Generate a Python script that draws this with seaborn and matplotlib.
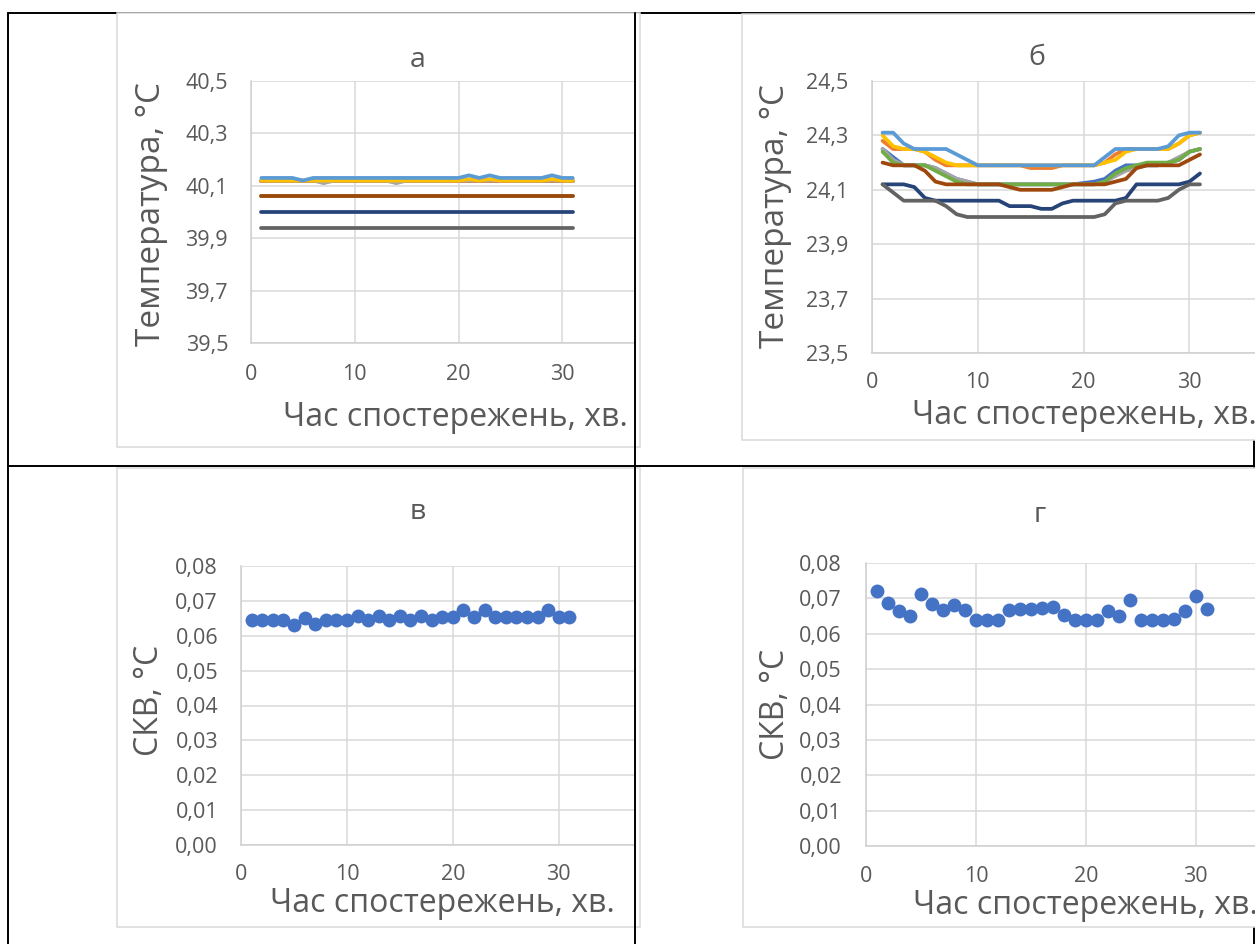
import matplotlib
matplotlib.use("Agg")
import matplotlib.pyplot as plt
import matplotlib.patches as mpatches
from matplotlib.lines import Line2D
from matplotlib.ticker import FuncFormatter
import pandas as pd
import seaborn as sns

# ---- data ----
minutes = list(range(1, 32))

series_names = ["s1", "s2", "s3", "s4", "s5", "s6", "s7", "s8", "s9"]
series_colors = ["#4472C4", "#ED7D31", "#A5A5A5", "#FFC000", "#5B9BD5",
                 "#70AD47", "#264478", "#9E480E", "#636363"]

# panel а: temperature, °C
a_s1 = [40.12, 40.12, 40.12, 40.12, 40.12, 40.12, 40.12, 40.12, 40.12, 40.12, 40.12,
        40.12, 40.12, 40.12, 40.12, 40.12, 40.12, 40.12, 40.12, 40.12, 40.12,
        40.12, 40.12, 40.12, 40.12, 40.12, 40.12, 40.12, 40.12, 40.12, 40.12]
a_s2 = [40.12, 40.12, 40.12, 40.12, 40.12, 40.12, 40.12, 40.12, 40.12, 40.12, 40.12,
        40.12, 40.12, 40.12, 40.12, 40.12, 40.12, 40.12, 40.12, 40.12, 40.12,
        40.12, 40.12, 40.12, 40.12, 40.12, 40.12, 40.12, 40.12, 40.12, 40.12]
a_s3 = [40.12, 40.12, 40.12, 40.12, 40.12, 40.12, 40.11, 40.12, 40.12, 40.12, 40.12,
        40.12, 40.12, 40.11, 40.12, 40.12, 40.12, 40.12, 40.12, 40.12, 40.12,
        40.12, 40.12, 40.12, 40.12, 40.12, 40.12, 40.12, 40.12, 40.12, 40.12]
a_s4 = [40.12, 40.12, 40.12, 40.12, 40.12, 40.12, 40.12, 40.12, 40.12, 40.12, 40.12,
        40.12, 40.12, 40.12, 40.12, 40.12, 40.12, 40.12, 40.12, 40.12, 40.125,
        40.12, 40.125, 40.12, 40.12, 40.12, 40.12, 40.12, 40.125, 40.12, 40.12]
a_s5 = [40.13, 40.13, 40.13, 40.13, 40.12, 40.13, 40.13, 40.13, 40.13, 40.13, 40.13,
        40.13, 40.13, 40.13, 40.13, 40.13, 40.13, 40.13, 40.13, 40.13, 40.14,
        40.13, 40.14, 40.13, 40.13, 40.13, 40.13, 40.13, 40.14, 40.13, 40.13]
a_s6 = [40.06, 40.06, 40.06, 40.06, 40.06, 40.06, 40.06, 40.06, 40.06, 40.06, 40.06,
        40.06, 40.06, 40.06, 40.06, 40.06, 40.06, 40.06, 40.06, 40.06, 40.06,
        40.06, 40.06, 40.06, 40.06, 40.06, 40.06, 40.06, 40.06, 40.06, 40.06]
a_s7 = [40.00, 40.00, 40.00, 40.00, 40.00, 40.00, 40.00, 40.00, 40.00, 40.00, 40.00,
        40.00, 40.00, 40.00, 40.00, 40.00, 40.00, 40.00, 40.00, 40.00, 40.00,
        40.00, 40.00, 40.00, 40.00, 40.00, 40.00, 40.00, 40.00, 40.00, 40.00]
a_s8 = [40.06, 40.06, 40.06, 40.06, 40.06, 40.06, 40.06, 40.06, 40.06, 40.06, 40.06,
        40.06, 40.06, 40.06, 40.06, 40.06, 40.06, 40.06, 40.06, 40.06, 40.06,
        40.06, 40.06, 40.06, 40.06, 40.06, 40.06, 40.06, 40.06, 40.06, 40.06]
a_s9 = [39.94, 39.94, 39.94, 39.94, 39.94, 39.94, 39.94, 39.94, 39.94, 39.94, 39.94,
        39.94, 39.94, 39.94, 39.94, 39.94, 39.94, 39.94, 39.94, 39.94, 39.94,
        39.94, 39.94, 39.94, 39.94, 39.94, 39.94, 39.94, 39.94, 39.94, 39.94]

# panel б: temperature, °C
b_s1 = [24.25, 24.22, 24.19, 24.19, 24.19, 24.18, 24.16, 24.14, 24.13, 24.12, 24.12,
        24.12, 24.12, 24.12, 24.12, 24.12, 24.12, 24.12, 24.12, 24.125, 24.13,
        24.14, 24.17, 24.19, 24.19, 24.19, 24.19, 24.20, 24.21, 24.24, 24.25]
b_s2 = [24.28, 24.25, 24.25, 24.25, 24.24, 24.21, 24.19, 24.19, 24.19, 24.19, 24.19,
        24.19, 24.19, 24.19, 24.18, 24.18, 24.18, 24.19, 24.19, 24.19, 24.19,
        24.20, 24.23, 24.25, 24.25, 24.25, 24.25, 24.25, 24.27, 24.30, 24.31]
b_s3 = [24.25, 24.21, 24.19, 24.19, 24.19, 24.18, 24.16, 24.14, 24.13, 24.12, 24.12,
        24.12, 24.12, 24.12, 24.12, 24.12, 24.12, 24.12, 24.12, 24.12, 24.12,
        24.13, 24.15, 24.17, 24.18, 24.19, 24.19, 24.20, 24.22, 24.24, 24.25]
b_s4 = [24.30, 24.26, 24.25, 24.25, 24.24, 24.22, 24.20, 24.19, 24.19, 24.19, 24.19,
        24.19, 24.19, 24.19, 24.19, 24.19, 24.19, 24.19, 24.19, 24.19, 24.19,
        24.20, 24.21, 24.24, 24.25, 24.25, 24.25, 24.25, 24.27, 24.30, 24.31]
b_s5 = [24.31, 24.31, 24.27, 24.25, 24.25, 24.25, 24.25, 24.23, 24.21, 24.19, 24.19,
        24.19, 24.19, 24.19, 24.19, 24.19, 24.19, 24.19, 24.19, 24.19, 24.19,
        24.22, 24.25, 24.25, 24.25, 24.25, 24.25, 24.26, 24.30, 24.31, 24.31]
b_s6 = [24.24, 24.20, 24.19, 24.19, 24.19, 24.17, 24.15, 24.13, 24.12, 24.12, 24.12,
        24.12, 24.12, 24.12, 24.12, 24.12, 24.12, 24.12, 24.12, 24.12, 24.12,
        24.13, 24.16, 24.18, 24.19, 24.20, 24.20, 24.20, 24.21, 24.24, 24.25]
b_s7 = [24.12, 24.12, 24.12, 24.11, 24.07, 24.06, 24.06, 24.06, 24.06, 24.06, 24.06,
        24.06, 24.04, 24.04, 24.04, 24.03, 24.03, 24.05, 24.06, 24.06, 24.06,
        24.06, 24.06, 24.07, 24.12, 24.12, 24.12, 24.12, 24.12, 24.13, 24.16]
b_s8 = [24.20, 24.19, 24.19, 24.19, 24.17, 24.13, 24.12, 24.12, 24.12, 24.12, 24.12,
        24.12, 24.11, 24.10, 24.10, 24.10, 24.10, 24.11, 24.12, 24.12, 24.12,
        24.12, 24.13, 24.14, 24.18, 24.19, 24.19, 24.19, 24.19, 24.21, 24.23]
b_s9 = [24.12, 24.09, 24.06, 24.06, 24.06, 24.06, 24.04, 24.01, 24.00, 24.00, 24.00,
        24.00, 24.00, 24.00, 24.00, 24.00, 24.00, 24.00, 24.00, 24.00, 24.00,
        24.01, 24.05, 24.06, 24.06, 24.06, 24.06, 24.07, 24.10, 24.12, 24.12]

# panel в / г: standard deviation, °C
v_sd = [0.0645, 0.0645, 0.0645, 0.0645, 0.0631, 0.0650, 0.0633, 0.0645, 0.0645, 0.0645,
        0.0658, 0.0645, 0.0657, 0.0645, 0.0658, 0.0645, 0.0658, 0.0645, 0.0655, 0.0655,
        0.0673, 0.0655, 0.0673, 0.0655, 0.0655, 0.0655, 0.0655, 0.0655, 0.0673, 0.0655,
        0.0655]
g_sd = [0.0720, 0.0687, 0.0665, 0.0651, 0.0713, 0.0684, 0.0668, 0.0682, 0.0668, 0.0639,
        0.0639, 0.0639, 0.0668, 0.0670, 0.0670, 0.0674, 0.0675, 0.0653, 0.0639, 0.0639,
        0.0639, 0.0663, 0.0651, 0.0696, 0.0639, 0.0639, 0.0639, 0.0641, 0.0663, 0.0708,
        0.0670]

x_ticks = [0, 10, 20, 30]
a_yticks = [39.5, 39.7, 39.9, 40.1, 40.3, 40.5]
b_yticks = [23.5, 23.7, 23.9, 24.1, 24.3, 24.5]
sd_yticks = [0.00, 0.01, 0.02, 0.03, 0.04, 0.05, 0.06, 0.07, 0.08]

x_label = "Час спостережень, хв."
t_label = "Температура, °С"
sd_label = "СКВ, °С"

# ---- style ----
W, H = 1255, 944
TEXT = "#595959"
GRID = "#d9d9d9"
AXIS = "#cfcfcf"

sns.set_style("white")
plt.rcParams['font.family'] = ['Open Sans', 'DejaVu Sans']


def rect(left, top, right, bottom):
    return [left / W, 1 - bottom / H, (right - left) / W, (bottom - top) / H]


def pt(x, y):
    return (x / W, 1 - y / H)


def long_df(cols):
    frames = []
    for name, vals in zip(series_names, cols):
        frames.append(pd.DataFrame({"x": minutes, "y": vals, "series": name}))
    return pd.concat(frames, ignore_index=True)


def setup(ax, xmax, yticks, fmt, xpad, ypad, ticklen=0):
    ax.set_xlim(0, xmax)
    ax.set_ylim(yticks[0], yticks[-1])
    ax.set_xticks(x_ticks)
    ax.set_yticks(yticks)
    ax.yaxis.set_major_formatter(
        FuncFormatter(lambda v, _: fmt.format(v).replace('.', ',')))
    ax.grid(True, color=GRID, lw=1.1)
    ax.set_axisbelow(True)
    for s in ['top', 'right']:
        ax.spines[s].set_visible(False)
    for s in ['left', 'bottom']:
        ax.spines[s].set_color(AXIS)
        ax.spines[s].set_linewidth(1.1)
    ax.tick_params(axis='both', colors=TEXT, labelsize=15.5,
                   length=ticklen, width=1.1, direction='out')
    ax.tick_params(axis='both', color=AXIS)
    ax.tick_params(axis='x', pad=xpad)
    ax.tick_params(axis='y', pad=ypad)


def labels(ax, title, title_xy, xlab, xlab_xy, ylab, ylab_xy, ysize):
    fig.text(*pt(*title_xy), title, ha='center', va='center',
             fontsize=20.5, color=TEXT)
    ax.set_xlabel(xlab, fontsize=23, color=TEXT)
    ax.xaxis.set_label_coords(*pt(*xlab_xy), transform=fig.transFigure)
    ax.xaxis.label.set_va('center')
    ax.set_ylabel(ylab, fontsize=ysize, color=TEXT)
    ax.yaxis.set_label_coords(*pt(*ylab_xy), transform=fig.transFigure)
    ax.yaxis.label.set_va('center')


fig = plt.figure(figsize=(W / 100, H / 100), dpi=100)

# table grid (Word table the charts sit in)
def tline(x0, y0, x1, y1, z):
    fig.add_artist(Line2D([x0 / W, x1 / W], [1 - y0 / H, 1 - y1 / H],
                          transform=fig.transFigure, color='black',
                          lw=1.4, zorder=z))

tline(8, 13, 1255, 13, -3)
tline(8, 13, 8, 944, 5)
tline(1254, 13, 1254, 944, -3)
tline(8, 466, 1255, 466, 5)
tline(635, 13, 635, 944, 5)

# chart area frames
for l, t, r, b in [(117, 13, 640, 447), (742, 14, 1262, 440),
                   (117, 468, 640, 927), (743, 468, 1262, 927)]:
    fig.add_artist(mpatches.Rectangle(
        (l / W, 1 - b / H), (r - l) / W, (b - t) / H,
        transform=fig.transFigure, facecolor='white',
        edgecolor=GRID, lw=1.1, zorder=-1))

palette = dict(zip(series_names, series_colors))

# а
ax_a = fig.add_axes(rect(251, 81, 635, 343))
sns.lineplot(data=long_df([a_s1, a_s2, a_s3, a_s4, a_s5, a_s6, a_s7, a_s8, a_s9]),
             x="x", y="y", hue="series", hue_order=series_names,
             palette=palette, lw=2.7, legend=False, errorbar=None,
             solid_capstyle='round', ax=ax_a)
setup(ax_a, 37.0, a_yticks, "{:.1f}", 15, 16.5)
labels(ax_a, "а", (418, 60), x_label, (455, 417), t_label, (151, 214), 24)

# б
ax_b = fig.add_axes(rect(872, 81, 1255, 353))
sns.lineplot(data=long_df([b_s1, b_s2, b_s3, b_s4, b_s5, b_s6, b_s7, b_s8, b_s9]),
             x="x", y="y", hue="series", hue_order=series_names,
             palette=palette, lw=2.7, legend=False, errorbar=None,
             solid_capstyle='round', ax=ax_b)
setup(ax_b, 36.2, b_yticks, "{:.1f}", 14, 17)
labels(ax_b, "б", (1037, 58), x_label, (1084, 416), t_label, (776, 216), 24)

# в
ax_v = fig.add_axes(rect(241, 566, 635, 845))
sns.scatterplot(x=minutes, y=v_sd, color="#4472C4", s=100, linewidth=0, ax=ax_v)
setup(ax_v, 37.2, sd_yticks, "{:.2f}", 14, 16.5)
labels(ax_v, "в", (418, 512), x_label, (442, 903), sd_label, (150, 700), 23)

# г
ax_g = fig.add_axes(rect(866, 563, 1255, 846))
sns.scatterplot(x=minutes, y=g_sd, color="#4472C4", s=100, linewidth=0, ax=ax_g)
setup(ax_g, 35.4, sd_yticks, "{:.2f}", 11, 13.7, ticklen=3.6)
labels(ax_g, "г", (1040, 515), x_label, (1085, 905), sd_label, (775, 704), 23)

fig.savefig("out.png", dpi=100)
